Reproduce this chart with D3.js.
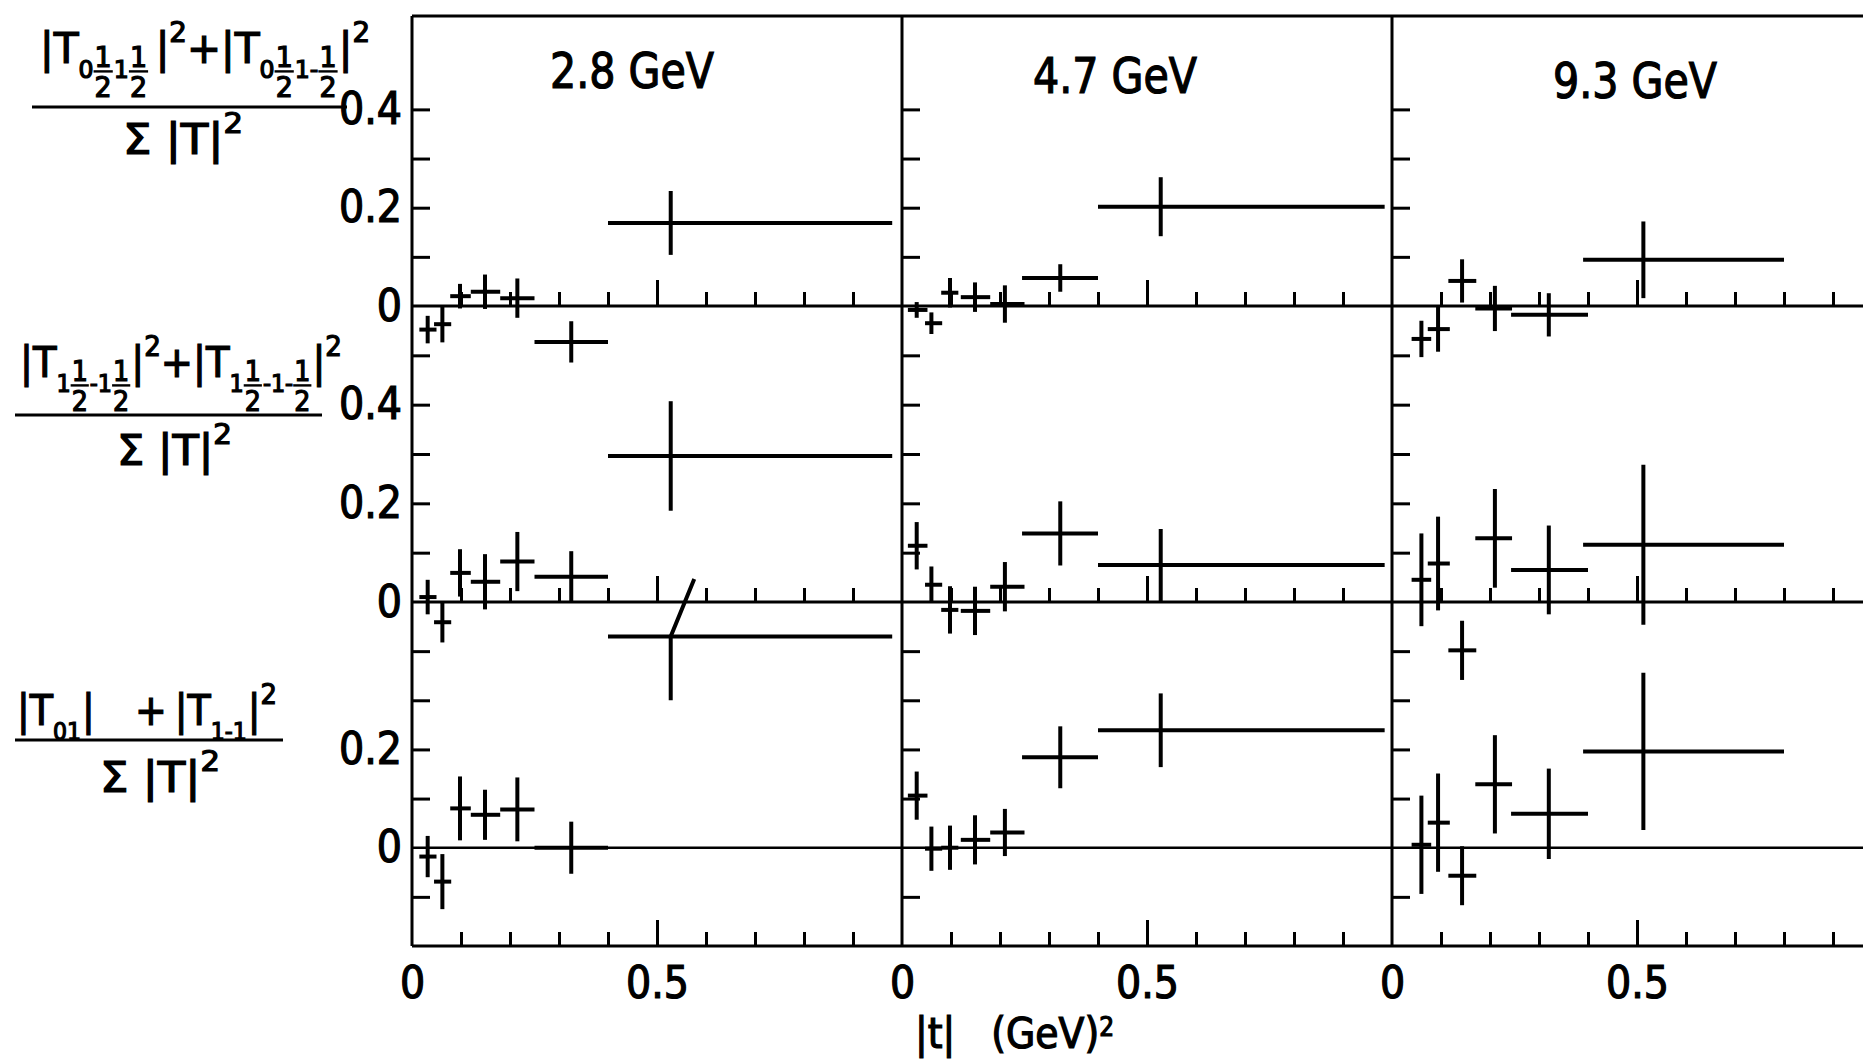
<!DOCTYPE html>
<html>
<head>
<meta charset="utf-8">
<script src="https://cdn.jsdelivr.net/npm/d3@7"></script>
<style>
  html, body { margin: 0; padding: 0; background: #fff; }
  svg { display: block; }
  text { font-family: 'DejaVu Sans Condensed', 'DejaVu Sans', sans-serif; fill: #000; stroke: #000; stroke-width: 1.2px; }
</style>
</head>
<body>
<div id="chart"></div>
<script>
const energies = ['2.8 GeV', '4.7 GeV', '9.3 GeV'];

// |t| bins for each energy (centre, low edge, high edge)
const tMid = [
  [0.032, 0.062, 0.098, 0.149, 0.215, 0.325, 0.528],
  [0.030, 0.060, 0.098, 0.149, 0.210, 0.323, 0.528],
  [0.060, 0.094, 0.143, 0.210, 0.320, 0.513]
];
const tLow = [
  [0.015, 0.045, 0.078, 0.120, 0.180, 0.250, 0.400],
  [0.012, 0.047, 0.080, 0.120, 0.180, 0.245, 0.400],
  [0.040, 0.073, 0.115, 0.170, 0.243, 0.390]
];
const tHigh = [
  [0.050, 0.080, 0.120, 0.180, 0.250, 0.400, 0.980],
  [0.052, 0.082, 0.115, 0.180, 0.250, 0.400, 0.985],
  [0.080, 0.118, 0.172, 0.245, 0.400, 0.800]
];

// (|T0½1½|² + |T0½1-½|²) / Σ|T|²
const ratioTop = [
  [-0.048, -0.037, 0.020, 0.029, 0.016, -0.073, 0.169],
  [-0.008, -0.035, 0.027, 0.018, 0.004, 0.057, 0.202],
  [-0.067, -0.047, 0.051, -0.005, -0.018, 0.094]
];
const errTop = [
  [0.028, 0.037, 0.025, 0.035, 0.040, 0.042, 0.065],
  [0.016, 0.022, 0.030, 0.030, 0.038, 0.028, 0.060],
  [0.037, 0.046, 0.044, 0.046, 0.044, 0.078]
];

// (|T1½-1½|² + |T1½-1-½|²) / Σ|T|²
const ratioMid = [
  [0.010, -0.041, 0.059, 0.041, 0.082, 0.051, 0.296],
  [0.114, 0.035, -0.016, -0.018, 0.031, 0.139, 0.075],
  [0.045, 0.078, -0.098, 0.129, 0.065, 0.116]
];
const errMid = [
  [0.035, 0.041, 0.048, 0.056, 0.060, 0.052, 0.111],
  [0.048, 0.037, 0.048, 0.049, 0.050, 0.065, 0.073],
  [0.094, 0.095, 0.060, 0.100, 0.090, 0.162]
];

// (|T01|² + |T1-1|²) / Σ|T|²
const ratioBot = [
  [-0.018, -0.069, 0.080, 0.067, 0.078, 0.000, 0.430],
  [0.106, -0.002, 0.000, 0.016, 0.031, 0.184, 0.239],
  [0.006, 0.051, -0.057, 0.129, 0.069, 0.196]
];
const errBot = [
  [0.042, 0.056, 0.065, 0.051, 0.065, 0.053, 0.130],
  [0.049, 0.045, 0.045, 0.050, 0.048, 0.063, 0.075],
  [0.100, 0.100, 0.060, 0.100, 0.092, 0.160]
];

// the one upper error bar that is drawn slanted (2.8 GeV, last bin, bottom row)
const slantedErr = { row: 2, col: 0, index: 6, t: 0.576, value: 0.547 };

const yTickVals = [[0.1, 0.2, 0.3, 0.4], [0.1, 0.2, 0.3, 0.4, 0.5], [-0.1, 0.1, 0.2, 0.3, 0.4]];
const yLabelVals = [[0, 0.2, 0.4], [0, 0.2, 0.4], [0, 0.2]];
const xMinorTicks = [0.1, 0.2, 0.3, 0.4, 0.6, 0.7, 0.8, 0.9];
const xLabelVals = [0, 0.5];

const rowValues = [ratioTop, ratioMid, ratioBot];
const rowErrors = [errTop, errMid, errBot];

// ---- layout
const W = 1863, H = 1062;
const colLeft = [412, 902, 1392], colWidth = 490;
const rowDomain = [[0, 0.59], [0, 0.6], [-0.2, 0.5]];
const rowRange = [[306, 16], [602, 306], [946, 602]];
const titleLayout = [{ dx: 220, base: 88 }, { dx: 213, base: 93 }, { dx: 243, base: 98 }];

const svg = d3.select('#chart')
  .append('svg')
  .attr('width', W)
  .attr('height', H);

svg.append('rect').attr('width', W).attr('height', H).attr('fill', '#fff');

const xs = colLeft.map(l => d3.scaleLinear().domain([0, 1]).range([l, l + colWidth]));
const ys = rowDomain.map((d, i) => d3.scaleLinear().domain(d).range(rowRange[i]));
const right = colLeft[2] + colWidth;

// frame
const frame = svg.append('g').attr('stroke', '#000').attr('stroke-width', 3);
colLeft.concat([right]).forEach(xp => {
  frame.append('line').attr('x1', xp).attr('x2', xp).attr('y1', rowRange[0][1]).attr('y2', rowRange[2][0]);
});
[rowRange[0][1], rowRange[0][0], rowRange[1][0], rowRange[2][0]].forEach(yp => {
  frame.append('line').attr('x1', colLeft[0]).attr('x2', right).attr('y1', yp).attr('y2', yp);
});
// zero line of bottom row
frame.append('line')
  .attr('x1', colLeft[0]).attr('x2', right)
  .attr('y1', ys[2](0)).attr('y2', ys[2](0))
  .attr('stroke-width', 2.5);

// ticks
ys.forEach((y, r) => {
  xs.forEach((x, c) => {
    const bottom = rowRange[r][0];
    const ax = svg.append('g').attr('transform', `translate(${colLeft[c]},0)`)
      .call(d3.axisRight(y).tickValues(yTickVals[r]).tickSize(18).tickFormat(''));
    ax.select('.domain').remove();
    ax.selectAll('line').attr('stroke-width', 3);

    const minor = svg.append('g').attr('transform', `translate(0,${bottom})`)
      .call(d3.axisTop(x).tickValues(xMinorTicks).tickSize(14).tickFormat(''));
    minor.select('.domain').remove();
    minor.selectAll('line').attr('stroke-width', 3);

    const major = svg.append('g').attr('transform', `translate(0,${bottom})`)
      .call(d3.axisTop(x).tickValues([0.5]).tickSize(26).tickFormat(''));
    major.select('.domain').remove();
    major.selectAll('line').attr('stroke-width', 3);
  });
  // right border ticks of last panel
  const rAx = svg.append('g').attr('transform', `translate(${right},0)`)
    .call(d3.axisLeft(y).tickValues(yTickVals[r]).tickSize(18).tickFormat(''));
  rAx.select('.domain').remove();
  rAx.selectAll('line').attr('stroke-width', 3);

  // y labels
  const lab = svg.append('g').attr('transform', `translate(${colLeft[0]},0)`)
    .call(d3.axisLeft(y).tickValues(yLabelVals[r]).tickSize(0).tickPadding(10)
      .tickFormat(d => d === 0 ? '0' : d.toFixed(1)));
  lab.select('.domain').remove();
  lab.attr('font-size', 44);
});

// x labels
xs.forEach(x => {
  const lab = svg.append('g').attr('transform', `translate(0,${rowRange[2][0]})`)
    .call(d3.axisBottom(x).tickValues(xLabelVals).tickSize(0).tickPadding(21)
      .tickFormat(d => d === 0 ? '0' : '0.5'));
  lab.select('.domain').remove();
  lab.attr('font-size', 44);
});

// data crosses
rowValues.forEach((vals, r) => {
  const y = ys[r];
  vals.forEach((series, c) => {
    const x = xs[c];
    const pts = series.map((v, i) => ({
      i, v, e: rowErrors[r][c][i], t: tMid[c][i], lo: tLow[c][i], hi: tHigh[c][i]
    }));
    const g = svg.append('g').attr('stroke', '#000').attr('stroke-width', 4).attr('fill', 'none');
    g.selectAll('line.h').data(pts).join('line')
      .attr('class', 'h')
      .attr('x1', d => x(d.lo)).attr('x2', d => x(d.hi))
      .attr('y1', d => y(d.v)).attr('y2', d => y(d.v));
    g.selectAll('path.v').data(pts).join('path')
      .attr('class', 'v')
      .attr('d', d => {
        const slant = slantedErr.row === r && slantedErr.col === c && slantedErr.index === d.i;
        const top = slant ? [x(slantedErr.t), y(slantedErr.value)] : [x(d.t), y(d.v + d.e)];
        return `M${x(d.t)},${y(d.v - d.e)}L${x(d.t)},${y(d.v)}L${top[0]},${top[1]}`;
      });
  });
});

// energy titles
energies.forEach((e, c) => {
  svg.append('text')
    .attr('x', colLeft[c] + titleLayout[c].dx)
    .attr('y', titleLayout[c].base)
    .attr('text-anchor', 'middle')
    .attr('font-size', 50)
    .attr('textLength', 164)
    .attr('lengthAdjust', 'spacingAndGlyphs')
    .text(e);
});

// x axis title
const xt = svg.append('text').attr('x', 915).attr('y', 1048).attr('font-size', 42);
xt.append('tspan').text('|t|');
xt.append('tspan').attr('dx', 36).text('(GeV)');
xt.append('tspan').attr('font-size', 26).attr('dy', -12).text('2');

// ---- row labels: fractions with sub/superscripts
function mathText(parent, tokens, size) {
  const g = parent.append('g');
  let cx = 0;
  tokens.forEach(tok => {
    if (tok.gap) { cx += tok.gap; return; }
    if (tok.frac) {
      const fs = size * 0.66;
      const a = g.append('text').attr('x', cx).attr('y', size * 0.1).attr('font-size', fs).text(tok.frac[0]);
      const b = g.append('text').attr('x', cx).attr('y', size * 0.82).attr('font-size', fs).text(tok.frac[1]);
      const w = Math.max(a.node().getComputedTextLength(), b.node().getComputedTextLength());
      g.append('line')
        .attr('x1', cx - 1).attr('x2', cx + w + 1)
        .attr('y1', size * 0.2).attr('y2', size * 0.2)
        .attr('stroke', '#000').attr('stroke-width', 2.4);
      cx += w + 2;
      return;
    }
    const fs = tok.sub ? size * 0.58 : tok.sup ? size * 0.68 : size;
    const dy = tok.sub ? size * 0.36 : tok.sup ? -size * 0.5 : 0;
    const t = g.append('text').attr('x', cx).attr('y', dy).attr('font-size', fs)
      .text(tok.sub || tok.sup || tok.s);
    cx += t.node().getComputedTextLength() + (tok.sub ? 1 : 0);
  });
  return { g, width: cx };
}

const half = { frac: ['1', '2'] };
const rowLabels = [
  {
    num: [{ s: '|T' }, { sub: '0' }, half, { sub: '1' }, half, { gap: 6 }, { s: '|' }, { sup: '2' }, { s: '+' },
      { s: '|T' }, { sub: '0' }, half, { sub: '1-' }, half, { s: '|' }, { sup: '2' }],
    den: [{ s: 'Σ |T|' }, { sup: '2' }]
  },
  {
    num: [{ s: '|T' }, { sub: '1' }, half, { sub: '-1' }, half, { s: '|' }, { sup: '2' }, { s: '+' },
      { s: '|T' }, { sub: '1' }, half, { sub: '-1-' }, half, { s: '|' }, { sup: '2' }],
    den: [{ s: 'Σ |T|' }, { sup: '2' }]
  },
  {
    num: [{ s: '|T' }, { sub: '01' }, { s: '|' }, { gap: 40 }, { s: '+' }, { gap: 8 },
      { s: '|T' }, { sub: '1-1' }, { s: '|' }, { sup: '2' }],
    den: [{ s: 'Σ |T|' }, { sup: '2' }]
  }
];
const rowLabelLayout = [
  { numX: 40, numW: 330, numBase: 63, barY: 107, barX: [32, 347], denX: 123, denW: 120, denBase: 154 },
  { numX: 20, numW: 322, numBase: 377, barY: 415, barX: [15, 322], denX: 117, denW: 115, denBase: 465 },
  { numX: 17, numW: 260, numBase: 725, barY: 740, barX: [15, 283], denX: 100, denW: 120, denBase: 792 }
];

rowLabels.forEach((lab, r) => {
  const L = rowLabelLayout[r];
  const n = mathText(svg, lab.num, 42);
  n.g.attr('transform', `translate(${L.numX},${L.numBase}) scale(${L.numW / n.width},1)`);
  svg.append('line')
    .attr('x1', L.barX[0]).attr('x2', L.barX[1])
    .attr('y1', L.barY).attr('y2', L.barY)
    .attr('stroke', '#000').attr('stroke-width', 3);
  const d = mathText(svg, lab.den, 42);
  d.g.attr('transform', `translate(${L.denX},${L.denBase}) scale(${L.denW / d.width},1)`);
});
</script>
</body>
</html>
